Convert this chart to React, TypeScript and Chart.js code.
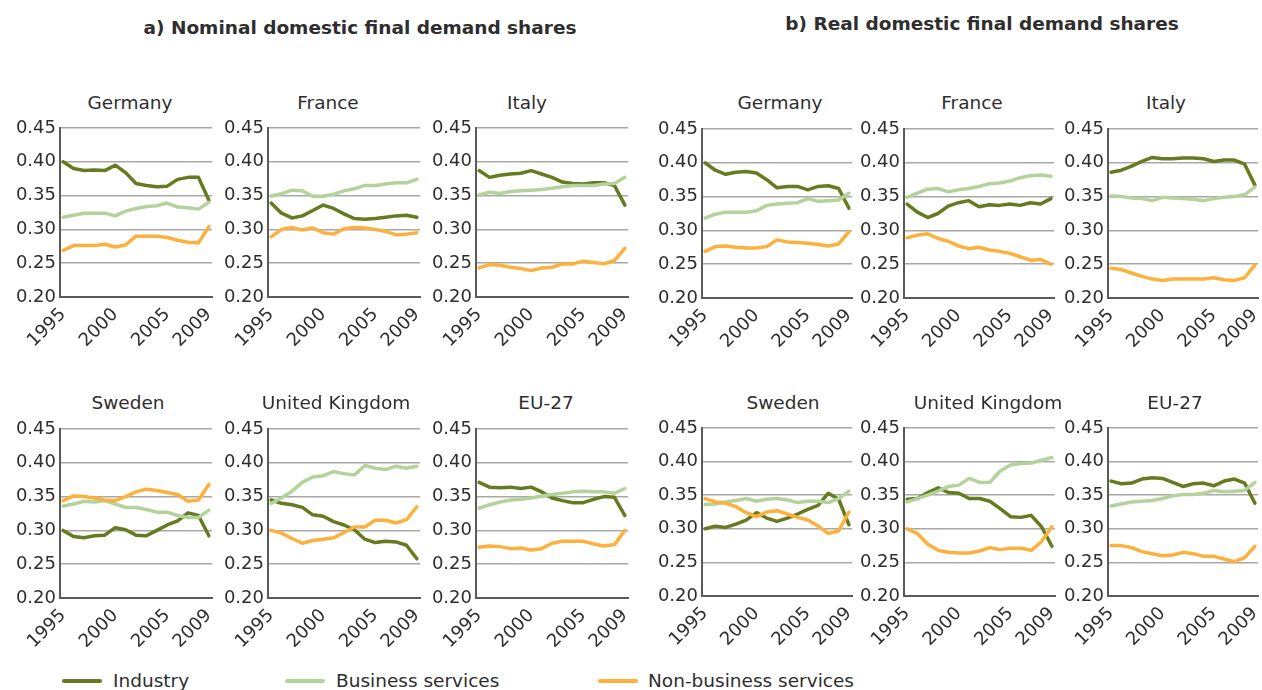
import React, { useEffect, useRef } from "react";
import { Chart, registerables } from "chart.js";

Chart.register(...registerables);

// ---------- data ----------
const years = [1995, 1996, 1997, 1998, 1999, 2000, 2001, 2002, 2003, 2004, 2005, 2006, 2007, 2008, 2009];
const xTickYears = [1995, 2000, 2005, 2009];
const yTickValues = [0.2, 0.25, 0.3, 0.35, 0.4, 0.45];
const seriesNames = ["Industry", "Business services", "Non-business services"];
const panelTitlesRow1 = ["Germany", "France", "Italy"];
const panelTitlesRow2 = ["Sweden", "United Kingdom", "EU-27"];
const figureTitles = ["a) Nominal domestic final demand shares", "b) Real domestic final demand shares"];

// a) Nominal
const nomGermanyIndustry = [0.400, 0.390, 0.387, 0.388, 0.387, 0.395, 0.384, 0.368, 0.365, 0.363, 0.364, 0.374, 0.377, 0.377, 0.343];
const nomGermanyBusiness = [0.318, 0.321, 0.324, 0.324, 0.324, 0.320, 0.327, 0.331, 0.334, 0.335, 0.339, 0.333, 0.332, 0.330, 0.340];
const nomGermanyNonBusiness = [0.269, 0.276, 0.276, 0.276, 0.278, 0.274, 0.277, 0.290, 0.290, 0.290, 0.288, 0.284, 0.281, 0.280, 0.304];

const nomFranceIndustry = [0.339, 0.324, 0.317, 0.320, 0.328, 0.336, 0.331, 0.323, 0.316, 0.315, 0.316, 0.318, 0.320, 0.321, 0.318];
const nomFranceBusiness = [0.349, 0.353, 0.358, 0.357, 0.349, 0.349, 0.352, 0.357, 0.360, 0.365, 0.365, 0.367, 0.369, 0.369, 0.374];
const nomFranceNonBusiness = [0.289, 0.300, 0.303, 0.299, 0.302, 0.295, 0.293, 0.301, 0.303, 0.302, 0.300, 0.297, 0.292, 0.293, 0.295];

const nomItalyIndustry = [0.387, 0.377, 0.380, 0.382, 0.383, 0.387, 0.382, 0.377, 0.370, 0.368, 0.367, 0.369, 0.369, 0.365, 0.336];
const nomItalyBusiness = [0.351, 0.355, 0.353, 0.356, 0.357, 0.358, 0.359, 0.361, 0.363, 0.365, 0.365, 0.365, 0.367, 0.368, 0.377];
const nomItalyNonBusiness = [0.243, 0.248, 0.247, 0.244, 0.242, 0.239, 0.243, 0.244, 0.249, 0.249, 0.253, 0.251, 0.249, 0.254, 0.272];

const nomSwedenIndustry = [0.300, 0.291, 0.289, 0.292, 0.293, 0.304, 0.301, 0.293, 0.292, 0.300, 0.308, 0.314, 0.326, 0.322, 0.292];
const nomSwedenBusiness = [0.336, 0.339, 0.343, 0.342, 0.344, 0.339, 0.334, 0.334, 0.331, 0.327, 0.327, 0.322, 0.319, 0.319, 0.330];
const nomSwedenNonBusiness = [0.344, 0.351, 0.350, 0.348, 0.345, 0.344, 0.350, 0.357, 0.361, 0.359, 0.356, 0.353, 0.343, 0.345, 0.368];

const nomUkIndustry = [0.345, 0.340, 0.338, 0.334, 0.323, 0.321, 0.313, 0.308, 0.301, 0.287, 0.282, 0.284, 0.283, 0.278, 0.258];
const nomUkBusiness = [0.340, 0.348, 0.358, 0.371, 0.379, 0.381, 0.387, 0.384, 0.382, 0.396, 0.392, 0.390, 0.395, 0.392, 0.395];
const nomUkNonBusiness = [0.300, 0.296, 0.288, 0.281, 0.285, 0.287, 0.289, 0.297, 0.305, 0.305, 0.315, 0.315, 0.311, 0.316, 0.335];

const nomEuIndustry = [0.371, 0.364, 0.363, 0.364, 0.362, 0.364, 0.357, 0.348, 0.344, 0.341, 0.341, 0.346, 0.350, 0.349, 0.322];
const nomEuBusiness = [0.333, 0.338, 0.342, 0.345, 0.346, 0.348, 0.351, 0.353, 0.355, 0.357, 0.358, 0.357, 0.357, 0.355, 0.362];
const nomEuNonBusiness = [0.275, 0.277, 0.276, 0.273, 0.274, 0.271, 0.273, 0.281, 0.284, 0.284, 0.284, 0.280, 0.277, 0.279, 0.300];

// b) Real
const realGermanyIndustry = [0.400, 0.389, 0.383, 0.386, 0.387, 0.385, 0.375, 0.363, 0.365, 0.365, 0.360, 0.365, 0.366, 0.362, 0.333];
const realGermanyBusiness = [0.318, 0.324, 0.327, 0.327, 0.327, 0.329, 0.337, 0.339, 0.340, 0.341, 0.347, 0.343, 0.344, 0.345, 0.355];
const realGermanyNonBusiness = [0.269, 0.276, 0.277, 0.275, 0.274, 0.274, 0.276, 0.286, 0.283, 0.282, 0.281, 0.279, 0.277, 0.280, 0.298];

const realFranceIndustry = [0.339, 0.327, 0.319, 0.325, 0.336, 0.341, 0.344, 0.335, 0.338, 0.337, 0.339, 0.337, 0.341, 0.339, 0.347];
const realFranceBusiness = [0.349, 0.355, 0.361, 0.362, 0.357, 0.360, 0.362, 0.365, 0.369, 0.370, 0.373, 0.378, 0.381, 0.382, 0.380];
const realFranceNonBusiness = [0.289, 0.293, 0.295, 0.288, 0.284, 0.277, 0.273, 0.275, 0.271, 0.269, 0.266, 0.261, 0.256, 0.257, 0.250];

const realItalyIndustry = [0.386, 0.389, 0.395, 0.402, 0.408, 0.406, 0.406, 0.407, 0.407, 0.406, 0.402, 0.404, 0.404, 0.398, 0.367];
const realItalyBusiness = [0.351, 0.350, 0.348, 0.347, 0.344, 0.349, 0.348, 0.347, 0.346, 0.344, 0.347, 0.349, 0.350, 0.353, 0.364];
const realItalyNonBusiness = [0.244, 0.242, 0.237, 0.232, 0.228, 0.226, 0.228, 0.228, 0.228, 0.228, 0.230, 0.227, 0.226, 0.230, 0.249];

const realSwedenIndustry = [0.300, 0.304, 0.302, 0.307, 0.313, 0.324, 0.316, 0.311, 0.316, 0.322, 0.329, 0.335, 0.353, 0.344, 0.306];
const realSwedenBusiness = [0.336, 0.337, 0.340, 0.342, 0.345, 0.341, 0.344, 0.345, 0.343, 0.339, 0.341, 0.341, 0.339, 0.345, 0.356];
const realSwedenNonBusiness = [0.345, 0.340, 0.338, 0.333, 0.324, 0.318, 0.325, 0.327, 0.322, 0.317, 0.313, 0.304, 0.293, 0.297, 0.325];

const realUkIndustry = [0.344, 0.345, 0.354, 0.361, 0.354, 0.353, 0.345, 0.345, 0.341, 0.330, 0.318, 0.317, 0.320, 0.303, 0.274];
const realUkBusiness = [0.340, 0.345, 0.350, 0.356, 0.363, 0.365, 0.375, 0.369, 0.369, 0.386, 0.395, 0.397, 0.398, 0.402, 0.406];
const realUkNonBusiness = [0.300, 0.293, 0.277, 0.268, 0.265, 0.264, 0.264, 0.267, 0.272, 0.269, 0.271, 0.271, 0.268, 0.281, 0.303];

const realEuIndustry = [0.371, 0.367, 0.368, 0.374, 0.376, 0.375, 0.369, 0.363, 0.367, 0.368, 0.364, 0.371, 0.374, 0.368, 0.338];
const realEuBusiness = [0.334, 0.337, 0.340, 0.341, 0.342, 0.345, 0.349, 0.351, 0.351, 0.353, 0.357, 0.355, 0.356, 0.357, 0.369];
const realEuNonBusiness = [0.275, 0.275, 0.272, 0.266, 0.263, 0.260, 0.261, 0.265, 0.263, 0.259, 0.259, 0.255, 0.251, 0.257, 0.274];

// ---------- styles / layout ----------
const FONT = "'DejaVu Sans', Verdana, sans-serif";
const TEXT = "#2e2e2e";
const AXIS = "#5a5a5a";
const GRID = "#a8a8a8";
const COLORS = ["#667a1f", "#b4d39b", "#fdb03b"];

const YW = 56; // y-axis box width
const PT = 18; // top padding
const PR = 26; // right padding
const XH = 62; // x-axis box height

type PanelCfg = {
  key: string;
  title: string;
  series: number[][];
  left: number;
  top: number;
  width: number;
  height: number;
  titleX: number;
  titleBase: number;
};

const panels: PanelCfg[] = [
  { key: "aDE", title: panelTitlesRow1[0], series: [nomGermanyIndustry, nomGermanyBusiness, nomGermanyNonBusiness], left: 60, top: 128, width: 152, height: 169, titleX: 130, titleBase: 110 },
  { key: "aFR", title: panelTitlesRow1[1], series: [nomFranceIndustry, nomFranceBusiness, nomFranceNonBusiness], left: 268, top: 128, width: 152, height: 169, titleX: 328, titleBase: 110 },
  { key: "aIT", title: panelTitlesRow1[2], series: [nomItalyIndustry, nomItalyBusiness, nomItalyNonBusiness], left: 476, top: 128, width: 152, height: 169, titleX: 527, titleBase: 110 },
  { key: "bDE", title: panelTitlesRow1[0], series: [realGermanyIndustry, realGermanyBusiness, realGermanyNonBusiness], left: 702, top: 129, width: 150, height: 169, titleX: 780, titleBase: 110 },
  { key: "bFR", title: panelTitlesRow1[1], series: [realFranceIndustry, realFranceBusiness, realFranceNonBusiness], left: 904, top: 129, width: 150, height: 169, titleX: 972, titleBase: 110 },
  { key: "bIT", title: panelTitlesRow1[2], series: [realItalyIndustry, realItalyBusiness, realItalyNonBusiness], left: 1108, top: 129, width: 150, height: 169, titleX: 1166, titleBase: 110 },
  { key: "aSE", title: panelTitlesRow2[0], series: [nomSwedenIndustry, nomSwedenBusiness, nomSwedenNonBusiness], left: 60, top: 429, width: 152, height: 169, titleX: 128, titleBase: 410 },
  { key: "aUK", title: panelTitlesRow2[1], series: [nomUkIndustry, nomUkBusiness, nomUkNonBusiness], left: 268, top: 429, width: 152, height: 169, titleX: 336, titleBase: 410 },
  { key: "aEU", title: panelTitlesRow2[2], series: [nomEuIndustry, nomEuBusiness, nomEuNonBusiness], left: 476, top: 429, width: 152, height: 169, titleX: 546, titleBase: 410 },
  { key: "bSE", title: panelTitlesRow2[0], series: [realSwedenIndustry, realSwedenBusiness, realSwedenNonBusiness], left: 702, top: 428, width: 150, height: 168, titleX: 783, titleBase: 410 },
  { key: "bUK", title: panelTitlesRow2[1], series: [realUkIndustry, realUkBusiness, realUkNonBusiness], left: 904, top: 428, width: 151, height: 168, titleX: 988, titleBase: 410 },
  { key: "bEU", title: panelTitlesRow2[2], series: [realEuIndustry, realEuBusiness, realEuNonBusiness], left: 1108, top: 428, width: 150, height: 168, titleX: 1175, titleBase: 410 },
];

function Panel({ cfg }: { cfg: PanelCfg }) {
  const ref = useRef<HTMLCanvasElement | null>(null);
  const cw = YW + cfg.width + PR;
  const ch = PT + cfg.height + XH;

  useEffect(() => {
    if (!ref.current) return;
    const tickFont = { family: FONT, size: 18 };
    const chart = new Chart(ref.current, {
      type: "line",
      data: {
        datasets: cfg.series.map((vals, i) => ({
          label: seriesNames[i],
          data: years.map((yr, j) => ({ x: yr, y: vals[j] })),
          borderColor: COLORS[i],
          backgroundColor: COLORS[i],
          borderWidth: 3.5,
          pointRadius: 0,
          pointHoverRadius: 0,
          tension: 0,
          fill: false,
          borderJoinStyle: "round",
          borderCapStyle: "round",
          order: 3 - i,
        })),
      },
      options: {
        animation: false,
        responsive: false,
        events: [],
        layout: { padding: { top: PT, right: PR, left: 0, bottom: 0 } },
        plugins: {
          legend: { display: false },
          title: { display: false },
          tooltip: { enabled: false },
        },
        scales: {
          x: {
            type: "linear",
            min: 1994.7,
            max: 2009.3,
            afterBuildTicks: (s: any) => {
              s.ticks = xTickYears.map((v) => ({ value: v }));
            },
            afterFit: (s: any) => {
              s.height = XH;
            },
            grid: { display: false, drawTicks: false },
            border: { display: true, color: AXIS, width: 2 },
            ticks: {
              autoSkip: false,
              minRotation: 45,
              maxRotation: 45,
              padding: 7,
              color: TEXT,
              font: tickFont,
              callback: (v: any) => String(v),
            },
          },
          y: {
            type: "linear",
            min: 0.2,
            max: 0.45,
            afterBuildTicks: (s: any) => {
              s.ticks = yTickValues.map((v) => ({ value: v }));
            },
            afterFit: (s: any) => {
              s.width = YW;
            },
            grid: {
              drawTicks: false,
              lineWidth: 1.5,
              color: (ctx: any) => (ctx.tick && ctx.tick.value <= 0.2001 ? AXIS : GRID),
            },
            border: { display: true, color: AXIS, width: 2 },
            ticks: {
              padding: 4,
              color: TEXT,
              font: tickFont,
              callback: (v: any) => Number(v).toFixed(2),
            },
          },
        },
      } as any,
    });
    return () => chart.destroy();
  }, [cfg]);

  return (
    <canvas
      ref={ref}
      width={cw}
      height={ch}
      style={{
        position: "absolute",
        left: cfg.left - YW,
        top: cfg.top - PT,
        width: cw,
        height: ch,
      }}
    />
  );
}

function TextAt({ x, base, size, bold, children, align = "center" }: any) {
  // DejaVu Sans: ascent 0.928, descent 0.236; line-height = size
  const off = (size - 1.164 * size) / 2 + 0.928 * size;
  return (
    <div
      style={{
        position: "absolute",
        left: x,
        top: base - off,
        transform: align === "center" ? "translateX(-50%)" : undefined,
        fontFamily: FONT,
        fontSize: size,
        lineHeight: `${size}px`,
        fontWeight: bold ? "bold" : "normal",
        color: TEXT,
        whiteSpace: "nowrap",
      }}
    >
      {children}
    </div>
  );
}

const legendPos = [
  { line: 62, text: 113 },
  { line: 285, text: 336 },
  { line: 598, text: 648 },
];

export default function App() {
  return (
    <div
      style={{
        position: "absolute",
        left: 0,
        top: 0,
        width: 1262,
        height: 690,
        overflow: "hidden",
        background: "#ffffff",
      }}
    >
      <TextAt x={360} base={34.5} size={18.5} bold>
        {figureTitles[0]}
      </TextAt>
      <TextAt x={982} base={30.5} size={18.5} bold>
        {figureTitles[1]}
      </TextAt>

      {panels.map((p) => (
        <React.Fragment key={p.key}>
          <TextAt x={p.titleX} base={p.titleBase} size={18.5}>
            {p.title}
          </TextAt>
          <Panel cfg={p} />
        </React.Fragment>
      ))}

      {seriesNames.map((name, i) => (
        <React.Fragment key={name}>
          <div
            style={{
              position: "absolute",
              left: legendPos[i].line,
              top: 679,
              width: 40,
              height: 4,
              borderRadius: 2,
              background: COLORS[i],
            }}
          />
          <TextAt x={legendPos[i].text} base={688} size={18.5} align="left">
            {name}
          </TextAt>
        </React.Fragment>
      ))}
    </div>
  );
}
